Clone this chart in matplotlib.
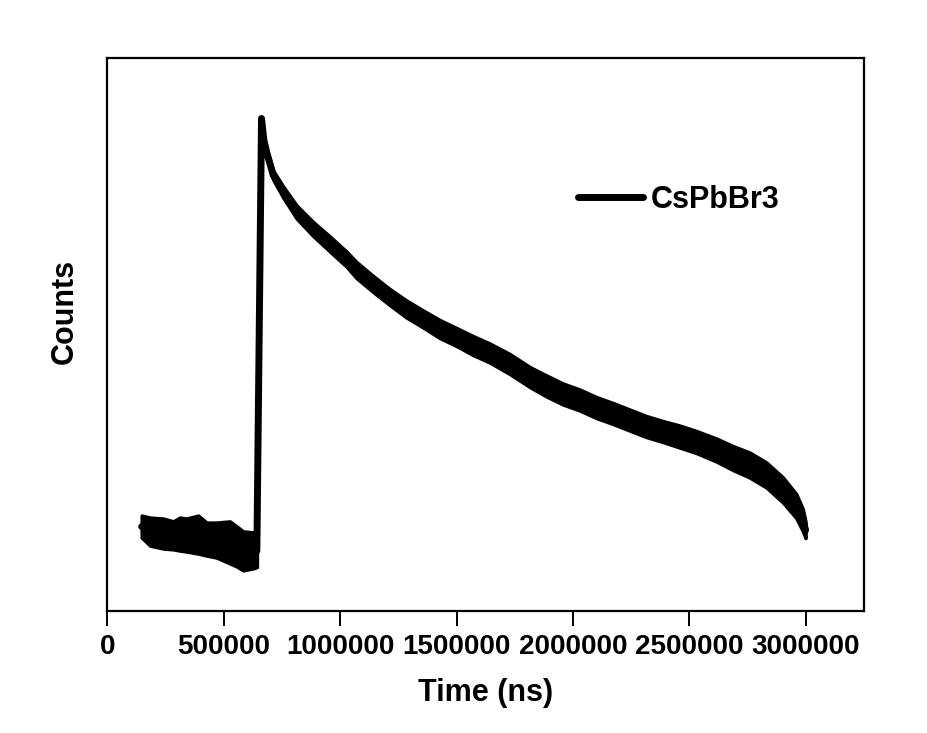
import matplotlib
matplotlib.use("Agg")
import matplotlib.pyplot as plt
import numpy as np

plt.rcParams['font.family'] = ['Liberation Sans', 'DejaVu Sans']
plt.rcParams['font.weight'] = 'bold'

# Time axis (ns) of the sampled trace
time_ns = [147000, 183000, 240000, 283000, 311000, 340000, 390000, 426000,
           469000, 526000, 555000, 583000, 626000, 642000,
           662000, 672000, 684000, 712000, 755000, 813000, 884000, 956000,
           1027000, 1070000, 1142000, 1213000, 1285000, 1357000, 1428000,
           1500000, 1571000, 1643000, 1729000, 1815000, 1887000, 1958000,
           2030000, 2101000, 2173000, 2244000, 2316000, 2387000, 2459000,
           2531000, 2617000, 2688000, 2760000, 2832000, 2903000, 2960000,
           2988000, 3000000]

# Mean counts (arbitrary units)
counts = [840, 790, 770, 752, 765, 755, 760, 715,
          705, 682, 642, 597, 602, 600,
          4920, 4705, 4585, 4355, 4185, 3985, 3815, 3665,
          3515, 3405, 3265, 3135, 3015, 2915, 2815,
          2735, 2650, 2575, 2465, 2335, 2245, 2165,
          2105, 2030, 1970, 1905, 1840, 1790, 1740,
          1685, 1605, 1525, 1455, 1355, 1205, 1045,
          905, 805]

# Half-width of the noise band around the mean (same units)
noise_spread = [110, 140, 150, 140, 165, 165, 190, 165,
                175, 210, 200, 195, 180, 165,
                0, 20, 35, 45, 55, 65, 70, 75,
                75, 80, 80, 80, 85, 85, 90,
                90, 95, 95, 100, 100, 105, 105,
                105, 105, 105, 105, 105, 105, 110,
                110, 115, 120, 125, 125, 125, 120,
                110, 80]

series_label = "CsPbBr3"
xticks = [0, 500000, 1000000, 1500000, 2000000, 2500000, 3000000]

fig = plt.figure(figsize=(9.28, 7.33), dpi=100)
ax = fig.add_axes([0.1158, 0.167, 0.815, 0.7535])

t = np.array(time_ns)
c = np.array(counts)
s = np.array(noise_spread)

ax.fill_between(t, c - s, c + s, color='black', linewidth=2.5,
                edgecolor='black', joinstyle='round')
ax.plot(t, c, color='black', linewidth=5, solid_capstyle='round',
        solid_joinstyle='round', label=series_label)

ax.set_xlim(0, 3250000)
ax.set_ylim(0, 5522)
ax.set_xticks(xticks)
ax.set_xticklabels([str(v) for v in xticks])
ax.set_yticks([])

for sp in ax.spines.values():
    sp.set_linewidth(1.6)

ax.tick_params(axis='x', direction='out', length=11, width=1.4, pad=6,
               labelsize=20)
for lbl in ax.get_xticklabels():
    lbl.set_fontweight('bold')

ax.set_xlabel("Time (ns)", fontsize=22, fontweight='bold')
ax.xaxis.label.set_va('center')
ax.xaxis.set_label_coords(0.5, -0.1494)
ax.set_ylabel("Counts", fontsize=22, fontweight='bold')
ax.yaxis.label.set_va('center')
ax.yaxis.set_label_coords(-0.0562, 0.542)

leg = ax.legend(loc='center left', bbox_to_anchor=(0.622, 0.7434),
                frameon=False, fontsize=22, handlelength=2.12,
                handletextpad=0.26, borderpad=0, borderaxespad=0)
for txt in leg.get_texts():
    txt.set_fontweight('bold')

fig.savefig("out.png", dpi=100, facecolor='white')
